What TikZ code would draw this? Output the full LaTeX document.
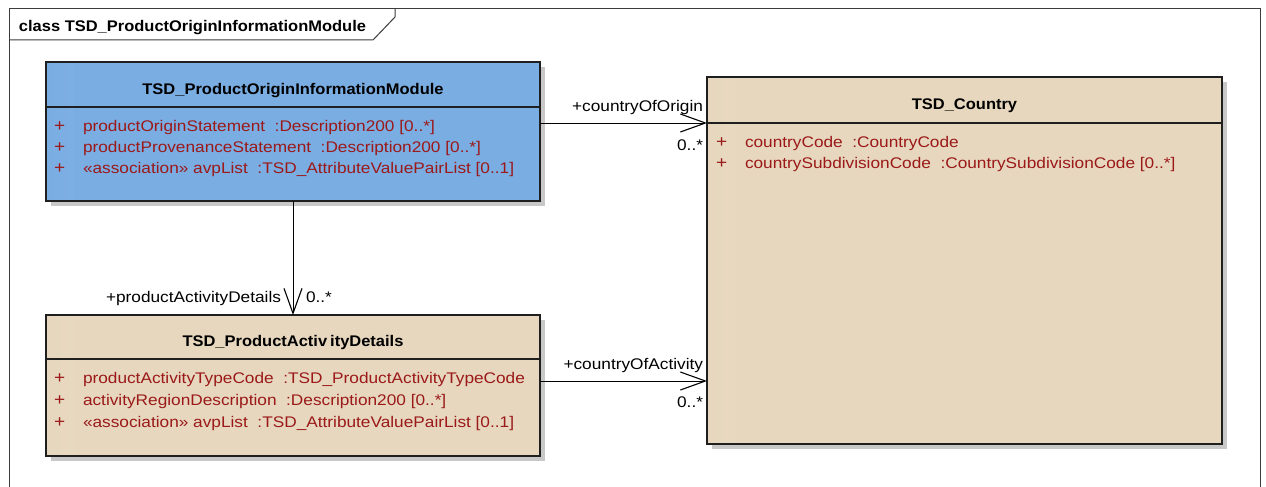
\documentclass[tikz,border=0pt]{standalone}
\usepackage{fontspec}
\setmainfont{Liberation Sans}[FakeStretch=1.12]
\newfontfamily\boldfam{Liberation Sans}[FakeStretch=1.07]
\usetikzlibrary{arrows.meta}
\definecolor{umlblue}{RGB}{122,173,226}
\definecolor{umlbluelt}{RGB}{165,206,248}
\definecolor{umltan}{RGB}{230,215,190}
\definecolor{umltanlt}{RGB}{247,238,224}
\definecolor{attrred}{RGB}{155,25,25}
\definecolor{shadowgray}{RGB}{200,200,200}
\definecolor{frameline}{RGB}{60,60,60}
\begin{document}
\begin{tikzpicture}[x=1pt,y=-1pt,
  font=\fontsize{15.4}{18}\selectfont,
  classbox/.style={draw=black!88, line width=1.2pt, anchor=north west, inner sep=0, outer sep=0},
  bluefill/.style={fill=umlblue, path picture={\shade[left color=umlblue, right color=umlbluelt]
     (path picture bounding box.south west) rectangle ([xshift=28pt]path picture bounding box.north west);}},
  tanfill/.style={fill=umltan, path picture={\shade[left color=umltan, right color=umltanlt]
     (path picture bounding box.south west) rectangle ([xshift=28pt]path picture bounding box.north west);}},
  divider/.style={draw=black!88, line width=1.1pt},
  txt/.style={inner sep=0, outer sep=0},
  ctitle/.style={txt, anchor=base, font=\fontsize{15.4}{18}\selectfont\boldfam\bfseries},
  attr/.style={txt, anchor=base west, text=attrred},
  plus/.style={txt, anchor=base west, text=attrred, font=\fontsize{17}{18}\selectfont},
  lbl/.style={txt, text=black},
  assoc/.style={line width=1pt, -{Straight Barb[length=25pt,width=18pt,line width=1.1pt]}}
]
\useasboundingbox (0,0) rectangle (1266,487);

% frame
\draw[frameline, line width=1pt] (9,487) -- (9,9) -- (1260,9) -- (1260,487);
\draw[frameline, line width=1pt] (9,40) -- (373,40) -- (395,17) -- (395,9);
\node[txt, anchor=base west, font=\fontsize{15.4}{18}\selectfont\boldfam\bfseries] (frametitle) at (19,32) {class TSD\_ProductOriginInformationModule};

% shadows
\fill[shadowgray] (51,67) rectangle (545,206);
\fill[shadowgray] (712,82) rectangle (1227,449);
\fill[shadowgray] (51,320) rectangle (545,461);

% TSD_ProductOriginInformationModule
\node[classbox, bluefill, minimum width=494pt, minimum height=139pt] (poim) at (46,62) {};
\draw[divider] (poim.west |- 0,107) -- (poim.east |- 0,107);
\node[ctitle] (poimtitle) at (293,94) {TSD\_ProductOriginInformationModule};
\node[plus] (poimp1) at (54,131) {+};
\node[attr] (poima1) at (83,131) {productOriginStatement\ \ :Description200 [0..*]};
\node[plus] (poimp2) at (54,152) {+};
\node[attr] (poima2) at (83,152) {productProvenanceStatement\ \ :Description200 [0..*]};
\node[plus] (poimp3) at (54,173) {+};
\node[attr] (poima3) at (83,173) {«association» avpList\ \ :TSD\_AttributeValuePairList [0..1]};

% TSD_Country
\node[classbox, tanfill, minimum width=515pt, minimum height=367pt] (country) at (707,77) {};
\draw[divider] (country.west |- 0,123) -- (country.east |- 0,123);
\node[ctitle] (countrytitle) at (964.5,110) {TSD\_Country};
\node[plus] (countryp1) at (716,147) {+};
\node[attr] (countrya1) at (745,147) {countryCode\ \ :CountryCode};
\node[plus] (countryp2) at (716,168) {+};
\node[attr] (countrya2) at (745,168) {countrySubdivisionCode\ \ :CountrySubdivisionCode [0..*]};

% TSD_ProductActivityDetails
\node[classbox, tanfill, minimum width=494pt, minimum height=141pt] (pad) at (46,315) {};
\draw[divider] (pad.west |- 0,359) -- (pad.east |- 0,359);
\node[ctitle] (padtitle) at (293,346) {TSD\_ProductActiv\kern3pt ityDetails};
\node[plus] (padp1) at (54,383) {+};
\node[attr] (pada1) at (83,383) {productActivityTypeCode\ \ :TSD\_ProductActivityTypeCode};
\node[plus] (padp2) at (54,405) {+};
\node[attr] (pada2) at (83,405) {activityRegionDescription\ \ :Description200 [0..*]};
\node[plus] (padp3) at (54,427) {+};
\node[attr] (pada3) at (83,427) {«association» avpList\ \ :TSD\_AttributeValuePairList [0..1]};

% associations
\draw[assoc] (poim.east |- 0,123) -- (country.west |- 0,123);
\node[lbl, anchor=base east] (origrole) at (703,111) {+countryOfOrigin};
\node[lbl, anchor=base east] (origmult) at (703,150) {0..*};

\draw[assoc] (poim.south) -- (pad.north);
\node[lbl, anchor=base east] (padrole) at (281,302) {+productActivityDetails};
\node[lbl, anchor=base west] (padmult) at (306,302) {0..*};

\draw[assoc] (pad.east |- 0,381) -- (country.west |- 0,381);
\node[lbl, anchor=base east] (actrole) at (703,369) {+countryOfActivity};
\node[lbl, anchor=base east] (actmult) at (703,407) {0..*};
\end{tikzpicture}
\end{document}
